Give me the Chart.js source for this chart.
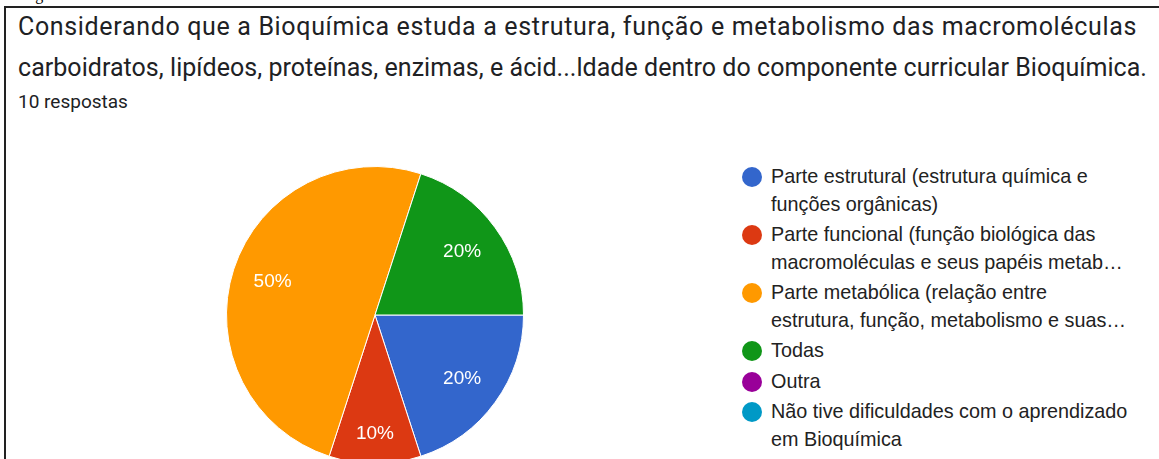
<!DOCTYPE html>
<html>
<head>
<meta charset="utf-8">
<script src="https://cdn.jsdelivr.net/npm/chart.js@4/dist/chart.umd.min.js"></script>
<style>
  html, body { margin: 0; padding: 0; background: #fff; overflow: hidden; }
  body { width: 1159px; height: 459px; position: relative; }
  .fig-caption {
    position: absolute; left: 22px; top: -13px;
    font: 16px "Liberation Serif", serif; color: #000; line-height: 16px;
  }
  .frame {
    position: absolute; left: 4px; top: 6px; width: 1200px; height: 500px;
    border: 2px solid #222; box-sizing: border-box;
  }
  .title {
    position: absolute; left: 18px; white-space: nowrap;
    font: 25px Roboto, sans-serif; color: #202124; line-height: 30px;
  }
  .count {
    position: absolute; left: 18px; top: 90px;
    font: 19px Roboto, sans-serif; color: #202124; line-height: 24px;
  }
  .pie-wrap { position: absolute; left: 226px; top: 166px; width: 298px; height: 298px; }
  .legend {
    position: absolute; left: 742px; top: 163px; margin: 0; padding: 0; list-style: none;
    font: 19.8px "Liberation Sans", Arial, sans-serif; color: #222; line-height: 27.5px;
  }
  .legend li { position: relative; padding-left: 29px; margin-bottom: 3px; white-space: nowrap; }
  .legend .dot {
    position: absolute; left: 0; top: 4px; width: 20px; height: 20px; border-radius: 50%;
  }
</style>
</head>
<body>
<div class="fig-caption">Figura</div>
<div class="frame"></div>
<div class="title" data-w="1119" style="top:12px">Considerando que a Bioquímica estuda a estrutura, função e metabolismo das macromoléculas</div>
<div class="title" data-w="1129" style="top:53px">carboidratos, lipídeos, proteínas, enzimas, e ácid...ldade dentro do componente curricular Bioquímica.</div>
<div class="count">10 respostas</div>
<div class="pie-wrap"><canvas id="pie"></canvas></div>
<ul class="legend" id="legend"></ul>
<script>
// ─── DATA ───
const categories = [
  ['Parte estrutural (estrutura química e', 'funções orgânicas)'],
  ['Parte funcional (função biológica das', 'macromoléculas e seus papéis metab…'],
  ['Parte metabólica (relação entre', 'estrutura, função, metabolismo e suas…'],
  ['Todas'],
  ['Outra'],
  ['Não tive dificuldades com o aprendizado', 'em Bioquímica']
];
const responses = [2, 1, 5, 2, 0, 0];
const sliceColors = ['#3366cc', '#dc3912', '#ff9900', '#109618', '#990099', '#0099c6'];

// ─── TITLE WIDTH FIT ───
document.querySelectorAll('.title').forEach(el => {
  const target = +el.dataset.w;
  const w = el.getBoundingClientRect().width;
  const n = el.textContent.length;
  el.style.letterSpacing = ((target - w) / n) + 'px';
});

// ─── LEGEND (html) ───
const legendEl = document.getElementById('legend');
categories.forEach((lines, i) => {
  const li = document.createElement('li');
  const dot = document.createElement('span');
  dot.className = 'dot';
  dot.style.background = sliceColors[i];
  li.appendChild(dot);
  lines.forEach((t, j) => {
    if (j) li.appendChild(document.createElement('br'));
    li.appendChild(document.createTextNode(t));
  });
  legendEl.appendChild(li);
});

// ─── PERCENT LABELS INSIDE SLICES ───
const total = responses.reduce((a, b) => a + b, 0);
const sliceLabels = {
  id: 'sliceLabels',
  afterDatasetsDraw(chart) {
    const { ctx } = chart;
    const meta = chart.getDatasetMeta(0);
    ctx.save();
    ctx.fillStyle = '#fff';
    ctx.font = '19px "Liberation Sans", Arial, sans-serif';
    ctx.textAlign = 'center';
    ctx.textBaseline = 'middle';
    meta.data.forEach((arc, i) => {
      const v = responses[i];
      if (!v) return;
      const { x, y, startAngle, endAngle, outerRadius } = arc.getProps(['x', 'y', 'startAngle', 'endAngle', 'outerRadius'], true);
      const mid = (startAngle + endAngle) / 2;
      const k = (endAngle - startAngle) < 0.7 ? 0.8 : 0.725;
      ctx.fillText(Math.round(v / total * 100) + '%', x + Math.cos(mid) * outerRadius * k, y + Math.sin(mid) * outerRadius * k);
    });
    ctx.restore();
  }
};

// ─── CHART: PIE ───
new Chart(document.getElementById('pie'), {
  type: 'pie',
  data: {
    labels: categories.map(l => l.join(' ')),
    datasets: [{
      data: responses,
      backgroundColor: sliceColors,
      borderColor: '#fff',
      borderWidth: 1
    }]
  },
  options: {
    responsive: true,
    maintainAspectRatio: false,
    animation: false,
    rotation: 90,
    plugins: { legend: { display: false }, tooltip: { enabled: false } }
  },
  plugins: [sliceLabels]
});
</script>
</body>
</html>
